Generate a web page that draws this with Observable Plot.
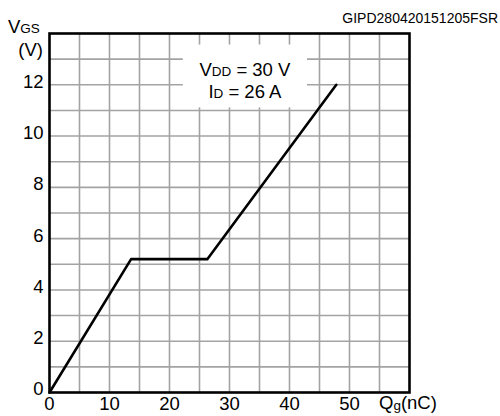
<!DOCTYPE html>
<html>
<head>
<meta charset="utf-8">
<script src="https://cdn.jsdelivr.net/npm/d3@7"></script>
<script src="https://cdn.jsdelivr.net/npm/@observablehq/plot@0.6"></script>
<style>
  html, body { margin: 0; padding: 0; background: #fff; }
  svg { display: block; }
</style>
</head>
<body>
<div id="chart"></div>
<script>
// Gate charge curve
const qg = [0, 13.6, 26.3, 47.8];      // nC
const vgs = [0, 5.2, 5.2, 12];         // V
const xTicks = [0, 10, 20, 30, 40, 50];
const yTicks = [0, 2, 4, 6, 8, 10, 12];
const xGrid = [5, 10, 15, 20, 25, 30, 35, 40, 45, 50, 55];
const yGrid = [1, 2, 3, 4, 5, 6, 7, 8, 9, 10, 11, 12, 13];
const noteBox = {x1: 22.3, x2: 43, y1: 11.1, y2: 13.55};
const noteLines = [
  {main: "V", sub: "DD", rest: " = 30 V", y: 12.6},
  {main: "I", sub: "D", rest: " = 26 A", y: 11.72}
];
const docCode = "GIPD280420151205FSR";

const FONT = "'Liberation Sans', Arial, Helvetica, sans-serif";
const FS = 18.5, SUB = 13.5;
const points = qg.map((x, i) => ({x, y: vgs[i]}));

const plot = Plot.plot({
  width: 500,
  height: 416,
  marginLeft: 49,
  marginRight: 91,
  marginTop: 33,
  marginBottom: 24,
  style: {fontFamily: FONT, fontSize: FS + "px", color: "#000", background: "#fff"},
  x: {domain: [0, 60], axis: null},
  y: {domain: [0, 14], axis: null},
  marks: [
    Plot.ruleX(xGrid, {stroke: "#a3a3a3", strokeWidth: 1.6}),
    Plot.ruleY(yGrid, {stroke: "#a3a3a3", strokeWidth: 1.6}),
    Plot.rect([noteBox], {x1: "x1", x2: "x2", y1: "y1", y2: "y2", fill: "#fff"}),
    Plot.line(points, {x: "x", y: "y", stroke: "#000", strokeWidth: 2.6}),
    Plot.frame({stroke: "#000", strokeWidth: 2.6}),
    Plot.axisX(xTicks, {tickSize: 0, tickPadding: 4, fontSize: FS, label: null, tickFormat: d => d}),
    Plot.axisY(yTicks, {tickSize: 0, tickPadding: 6, fontSize: FS, label: null, tickFormat: d => d, dy: -3})
  ]
});

document.getElementById("chart").appendChild(plot);

const svg = d3.select(plot);
const sx = plot.scale("x"), sy = plot.scale("y");

function subText(x, y, anchor, parts) {
  const t = svg.append("text")
    .attr("x", x).attr("y", y)
    .attr("text-anchor", anchor)
    .attr("font-family", FONT)
    .attr("fill", "#000");
  parts.forEach(p => {
    const ts = t.append("tspan").text(p.t).attr("font-size", p.s);
    if (p.dy) ts.attr("dy", p.dy);
  });
  return t;
}

// Document code, top right
svg.append("text").attr("x", 498).attr("y", 23).attr("text-anchor", "end")
  .attr("font-family", FONT).attr("font-size", 14).text(docCode);

// Y axis label
subText(8, 33, "start", [{t: "V", s: FS}, {t: "GS", s: SUB}]);
subText(43, 56, "end", [{t: "(V)", s: FS}]);

// X axis label
subText(379, 409, "start", [{t: "Q", s: FS}, {t: "g", s: SUB, dy: 1}, {t: "(nC)", s: FS, dy: -1}]);

// Annotation
const cx = sx.apply((noteBox.x1 + noteBox.x2) / 2);
noteLines.forEach(l => {
  subText(cx, sy.apply(l.y) + 7, "middle", [{t: l.main, s: FS}, {t: l.sub, s: SUB}, {t: l.rest, s: FS}]);
});
</script>
</body>
</html>
